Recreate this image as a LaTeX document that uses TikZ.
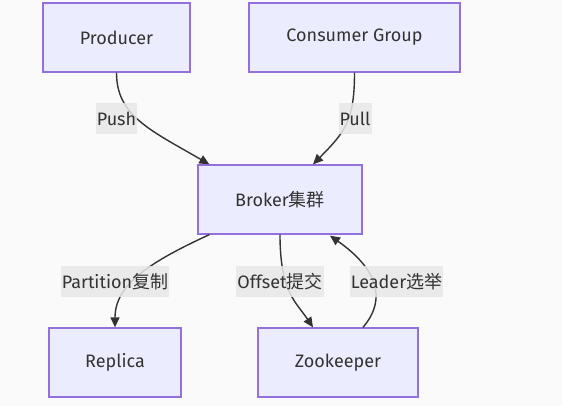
\documentclass[tikz,border=0pt]{standalone}
\usepackage{fontspec}
\setmainfont{Fira Sans}
\newfontfamily\cjk{Noto Sans CJK SC}
\usetikzlibrary{arrows.meta,calc}
\definecolor{bgc}{HTML}{FAFAFA}
\definecolor{boxfill}{HTML}{ECECFF}
\definecolor{boxline}{HTML}{9370DB}
\definecolor{edgec}{HTML}{333333}
\definecolor{lblc}{HTML}{E8E8E8}
\tikzset{
  box/.style={draw=boxline, fill=boxfill, line width=1.3pt, minimum height=69pt, inner sep=0pt, text=edgec, font=\fontsize{18}{21}\selectfont},
  lbl/.style={fill=lblc, fill opacity=0.85, text opacity=1, text=edgec, inner xsep=1pt, inner ysep=0pt, minimum height=31pt, font=\fontsize{18}{21}\selectfont},
  edge/.style={draw=edgec, line width=1.4pt, -{Triangle[length=10pt,width=9pt]}}
}
\begin{document}
\begin{tikzpicture}[x=1pt,y=-1pt]
\fill[bgc] (0,0) rectangle (562,406);
\useasboundingbox (0,0) rectangle (562,406);
\node[box, minimum width=147pt] (prod) at (116.5,37.5) {Producer};
\node[box, minimum width=211pt] (cons) at (354.5,37.5) {Consumer Group};
\node[box, minimum width=164pt] (broker) at (280,199.5) {Broker{\cjk 集群}};
\node[box, minimum width=132pt] (rep) at (115,362.5) {Replica};
\node[box, minimum width=160pt] (zk) at (338,362.5) {Zookeeper};
\draw[edge] (prod.south) .. controls ($(prod.south)+(0,43)$) and (150,130) .. ($(broker.north west)+(12,0)$);
\draw[edge] (cons.south) .. controls ($(cons.south)+(0,48)$) and (345,132) .. ($(broker.north)+(33,0)$);
\draw[edge] ($(broker.south west)+(12,0)$) .. controls (150,262) and ($(rep.north)+(0,-43)$) .. (rep.north);
\draw[edge] (broker.south) .. controls (280,292) and (296,302) .. ($(zk.north)+(-25,0)$);
\draw[edge] ($(zk.north)+(25,0)$) .. controls (388,298) and (376,268) .. ($(broker.south)+(50,1)$);
\node[lbl] (lpush) at (116.5,118.5) {Push};
\node[lbl] (lpull) at (355,118.5) {Pull};
\node[lbl] (lpart) at (115,281.5) {Partition{\cjk 复制}};
\node[lbl] (loff) at (280,281.5) {Offset{\cjk 提交}};
\node[lbl] (llead) at (396.5,281.5) {Leader{\cjk 选举}};
\end{tikzpicture}
\end{document}
